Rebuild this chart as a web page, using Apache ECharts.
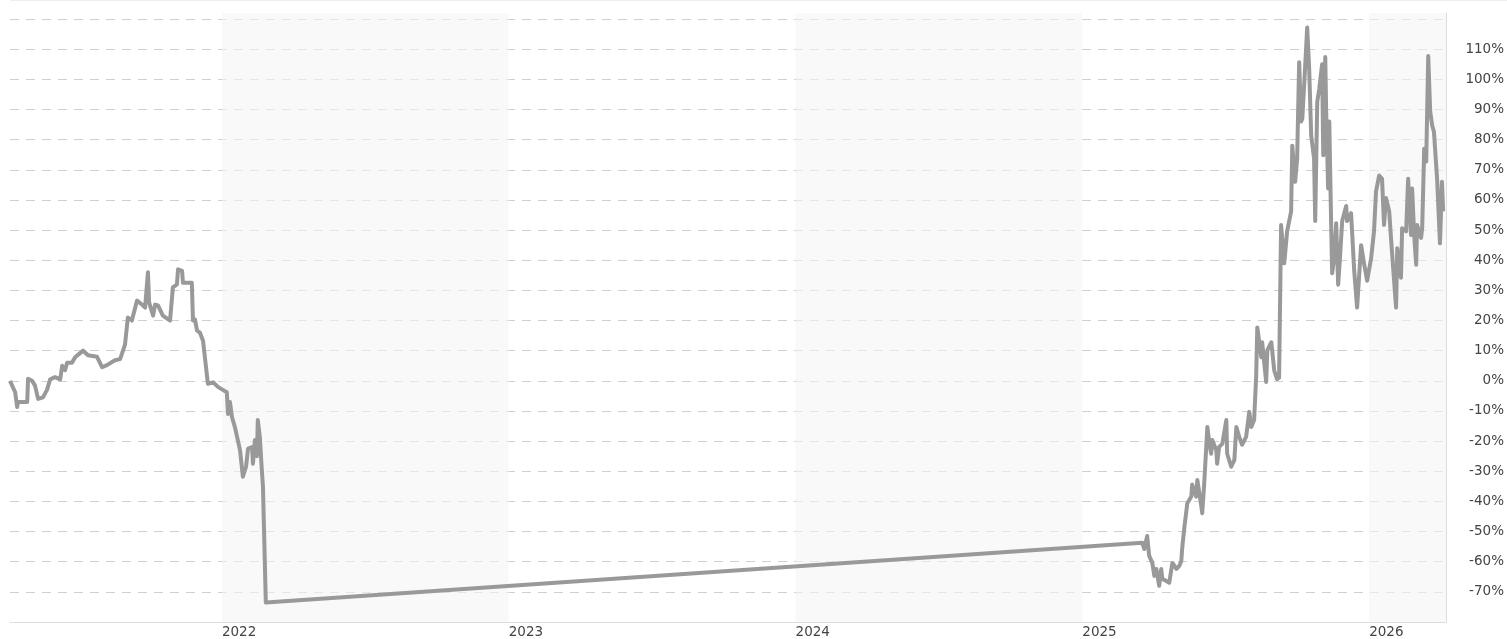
<!DOCTYPE html>
<html>
<head>
<meta charset="utf-8">
<script src="https://cdn.jsdelivr.net/npm/echarts@6/dist/echarts.min.js"></script>
<style>
html,body{margin:0;padding:0;background:#fff;}
#c{width:1507px;height:639px;}
</style>
</head>
<body>
<div id="c"></div>
<script>
// time in decimal years, values in percent
var times = [
2021.261,2021.279,2021.286,2021.289,2021.321,2021.324,2021.338,2021.348,2021.359,2021.376,
2021.390,2021.401,2021.418,2021.436,2021.443,2021.453,2021.460,2021.477,2021.488,2021.516,
2021.533,2021.564,2021.582,2021.599,2021.627,2021.645,2021.662,2021.672,2021.686,2021.704,
2021.721,2021.732,2021.742,2021.746,2021.760,2021.767,2021.777,2021.794,2021.819,2021.829,
2021.843,2021.847,2021.861,2021.864,2021.895,2021.899,2021.906,2021.913,2021.923,2021.934,
2021.951,2021.969,2021.986,2022.003,2022.017,2022.021,2022.028,2022.035,2022.045,2022.063,
2022.073,2022.084,2022.091,2022.105,2022.108,2022.115,2022.122,2022.125,2022.132,2022.139,
2022.143,2022.153,
2025.209,2025.216,2025.226,2025.233,2025.244,2025.251,2025.258,2025.268,2025.275,2025.279,
2025.293,2025.303,2025.314,2025.328,2025.338,2025.345,2025.348,2025.355,2025.366,2025.380,
2025.383,2025.397,2025.401,2025.415,2025.418,2025.425,2025.432,2025.436,2025.443,2025.449,
2025.453,2025.467,2025.470,2025.477,2025.488,2025.502,2025.505,2025.519,2025.530,2025.537,
2025.547,2025.557,2025.571,2025.582,2025.589,2025.599,2025.606,2025.610,2025.624,2025.627,
2025.641,2025.645,2025.659,2025.669,2025.679,2025.686,2025.693,2025.704,2025.714,2025.728,
2025.732,2025.742,2025.749,2025.756,2025.763,2025.767,2025.777,2025.784,2025.791,2025.798,
2025.808,2025.812,2025.819,2025.826,2025.836,2025.840,2025.847,2025.850,2025.857,2025.861,
2025.868,2025.871,2025.878,2025.885,2025.892,2025.899,2025.906,2025.920,2025.923,2025.937,
2025.948,2025.958,2025.972,2025.983,2025.993,2026.007,2026.017,2026.024,2026.035,2026.045,
2026.052,2026.059,2026.070,2026.077,2026.087,2026.094,2026.098,2026.111,2026.115,2026.129,
2026.136,2026.146,2026.150,2026.157,2026.164,2026.167,2026.181,2026.185,2026.192,2026.199,
2026.206,2026.213,2026.220,2026.226,2026.237,2026.247,2026.254,2026.258
];
var values = [
0,-3.8,-8.7,-7,-7,0.7,0,-1.5,-6,-5.5,
-3,0.5,1.2,0.5,5,3.5,6,6,7.8,10,
8.5,8,4.5,5.2,6.8,7.2,12,21,20,26.6,
25.3,24.3,36,26,21.6,25.3,25,21.6,20,31,
32,37,36.5,32.5,32.5,20,20.3,16.7,16,13.3,
-1,-0.5,-2,-3,-3.8,-11,-7,-12,-15.3,-23,
-31.8,-28.5,-22.5,-22,-27.5,-19.6,-25,-13,-18.5,-29.5,
-35,-73.5,
-53.7,-55.8,-51.5,-58,-60.4,-64.7,-62.4,-68,-62.4,-65.7,
-66.4,-67,-60.4,-62.4,-61.4,-59.8,-55.8,-49.2,-40.6,-38.4,
-34.4,-38.4,-32.9,-41.7,-43.9,-34,-21.9,-15.3,-20.9,-24.2,
-19.6,-23,-27.5,-21.9,-20.9,-13,-24.2,-28.5,-26.3,-15.3,
-18.6,-21.2,-18.6,-10.3,-15.3,-13,1.2,17.7,7.8,12.8,
-0.4,10.1,12.8,3.5,0.6,1,51.7,39,49.6,56.2,
78,66,73.7,105.7,86,87,104.4,117.2,103.4,81.3,
73.7,53,92.5,96.8,105,74.8,107.4,90.2,63.8,86,
49.6,35.7,40.7,52.3,31.9,41.8,53,58,53,55.6,
36.4,24.3,45,38.5,33.2,40.7,49.6,62.8,68.1,67,
51.7,60.6,56.2,46.3,33.2,24.3,44,34.2,50.6,49.6,
67,48.4,63.8,48.4,38.5,51.7,47.4,50.6,77,72.7,
107.7,89.2,84.6,82.6,67,45.6,66,56.2
];
var yearTicks = [2022, 2023, 2024, 2025, 2026];
var shadedYears = [[2022, 2023], [2024, 2025], [2026, 2026.268]];
var xMin = 2021.261, xMax = 2026.268;

var seriesData = times.map(function (t, i) { return [t, values[i]]; });
var chart = echarts.init(document.getElementById('c'), null, {renderer: 'canvas'});
var labelFont = {color: '#444', fontFamily: 'DejaVu Sans', fontSize: 13.5};
chart.setOption({
  animation: false,
  backgroundColor: '#fff',
  graphic: [{type: 'line', shape: {x1: 10, y1: 0.5, x2: 1507, y2: 0.5}, style: {stroke: '#eeeeee', lineWidth: 1}}],
  grid: {left: 10, right: 60, top: 13, bottom: 14, containLabel: false},
  xAxis: {
    type: 'value', min: xMin, max: xMax,
    axisLine: {show: true, onZero: false, lineStyle: {color: '#dddddd', width: 1}},
    axisTick: {show: false},
    splitLine: {show: false},
    axisLabel: Object.assign({
      customValues: yearTicks, align: 'left', margin: 3,
      formatter: function (v) { return String(Math.round(v)); }
    }, labelFont)
  },
  yAxis: {
    type: 'value', position: 'right', min: -80, max: 122, interval: 10,
    axisLine: {show: true, onZero: false, lineStyle: {color: '#dddddd', width: 1}},
    axisTick: {show: false},
    splitLine: {show: true, showMaxLine: false, lineStyle: {color: '#d0d0d0', type: [9, 7], width: 1}},
    axisLabel: Object.assign({
      align: 'right', margin: 58, padding: [6, 0, 0, 0],
      formatter: function (v) { return (v <= -80 || v >= 120) ? '' : (Math.round(v) + '%'); }
    }, labelFont)
  },
  series: [{
    type: 'line', data: seriesData, showSymbol: false, z: 3,
    lineStyle: {color: '#999999', width: 4, join: 'round'},
    itemStyle: {color: '#999999'},
    markArea: {
      silent: true,
      itemStyle: {color: 'rgba(245,245,245,0.6)'},
      data: shadedYears.map(function (p) { return [{xAxis: p[0]}, {xAxis: p[1]}]; })
    }
  }]
});
</script>
</body>
</html>
